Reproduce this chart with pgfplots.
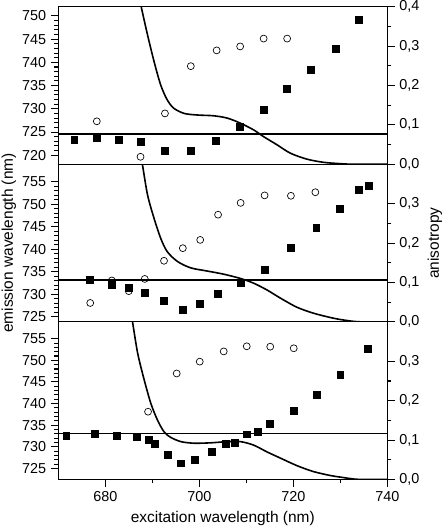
\documentclass[border=0pt]{standalone}
\usepackage{fontspec}
\setmainfont{Liberation Sans}
\usepackage{pgfplots}
\pgfplotsset{compat=1.18}

\newcommand{\lblfont}{\fontsize{11.6}{13}\selectfont}
\newcommand{\tckfont}{\fontsize{10.8}{12}\selectfont}

\pgfplotsset{
  base/.style={
    scale only axis, width=246.75pt, height=118.2pt,
    xmin=670, xmax=740,
    axis line style={line width=0.9pt},
    every tick/.append style={line width=0.8pt, black},
    tick align=outside,
    major tick length=5.5pt, minor tick length=3pt,
    every tick label/.append style={font=\tckfont},
    /pgf/number format/assume math mode=true,
    anchor=south west,
  },
  leftax/.style={base, ytick pos=left, minor y tick num=4, xtick=\empty},
  rightax/.style={base, axis y line*=right, axis x line=none,
    ymin=0, ymax=0.4, minor y tick num=1,
    yticklabel style={/pgf/number format/.cd, fixed, fixed zerofill, precision=1, use comma}},
  sq/.style={only marks, mark=square*, mark size=2.6pt, mark options={fill=black, draw=black}},
  ci/.style={only marks, mark=o, mark size=2.6pt, mark options={line width=0.5pt, draw=black}},
  curve/.style={black, line width=1.2pt, smooth, no marks},
  hline/.style={black, line width=0.85pt, no marks},
}

\begin{document}
\begin{tikzpicture}
\useasboundingbox (-43.7pt,-36.4pt) rectangle (287.8pt,359.6pt);

% ---------- Panel 1 (top) ----------
\begin{axis}[leftax, at={(0,236.4pt)}, ymin=718.06, ymax=752.0,
  ytick={720,725,730,735,740,745,750}]
\addplot[sq] coordinates {
(673.4,723.3) (678.2,723.8) (682.8,723.4) (687.5,722.9) (692.7,721.0)
(698.2,720.9) (703.6,723.2) (708.7,726.2) (713.7,729.8) (718.7,734.4)
(723.8,738.5) (729.1,743.0) (733.9,749.1)};
\addplot[hline] coordinates {(670,724.57) (740,724.57)};
\end{axis}
\begin{axis}[rightax, at={(0,236.4pt)}, ytick={0,0.1,0.2,0.3,0.4}]
\addplot[ci] coordinates {
(678.2,0.109) (687.5,0.019) (692.7,0.129) (698.2,0.249) (703.7,0.289)
(708.7,0.299) (713.7,0.319) (718.7,0.319)};
\addplot[curve] coordinates {
(686.8,0.45) (687.7,0.397) (689.0,0.328) (690.4,0.260) (691.8,0.201)
(693.2,0.163) (694.6,0.142) (696.8,0.129) (699.6,0.125) (703.1,0.123)
(706.0,0.117) (708.8,0.104) (711.6,0.087) (713.7,0.070) (716.6,0.049)
(719.4,0.028) (722.9,0.013) (726.4,0.005) (730.0,0.0015) (733,0) (740,0)};
\end{axis}

% ---------- Panel 2 (middle) ----------
\begin{axis}[leftax, at={(0,118.2pt)}, ymin=723.9, ymax=758.9,
  ytick={725,730,735,740,745,750,755},
  ylabel={emission wavelength (nm)},
  every axis y label/.style={at={(axis description cs:-0.150,0.5)}, anchor=center, rotate=90, font=\lblfont}]
\addplot[sq] coordinates {
(676.8,733.3) (681.4,732.1) (685.0,731.4) (688.4,730.4) (692.5,728.6)
(696.5,726.6) (700.1,728.0) (704.0,730.1) (708.8,732.6) (713.9,735.5)
(719.5,740.4) (724.9,744.7) (729.8,749.1) (734.0,753.3) (736.1,754.2)};
\addplot[hline] coordinates {(670,733.2) (740,733.2)};
\end{axis}
\begin{axis}[rightax, at={(0,118.2pt)}, ytick={0,0.1,0.2,0.3},
  ylabel={anisotropy},
  every axis y label/.style={at={(axis description cs:1.145,0.5)}, anchor=center, rotate=90, font=\lblfont}]
\addplot[ci] coordinates {
(676.8,0.048) (681.4,0.105) (685.0,0.078) (688.4,0.109) (692.5,0.155)
(696.5,0.187) (700.2,0.208) (704.0,0.272) (708.8,0.302) (713.9,0.321)
(719.5,0.320) (724.7,0.329)};
\addplot[curve] coordinates {
(687.2,0.45) (687.9,0.40) (689.0,0.322) (690.4,0.262) (691.8,0.212)
(693.2,0.178) (695.4,0.153) (698.2,0.137) (701.7,0.129) (705.2,0.121)
(708.8,0.110) (711.6,0.098) (714.4,0.081) (717.3,0.060) (720.8,0.037)
(724.3,0.022) (727.9,0.011) (730.0,0.006) (733.0,0.001) (735,0) (740,0)};
\end{axis}

% ---------- Panel 3 (bottom) ----------
\begin{axis}[leftax, at={(0,0pt)}, ymin=722.45, ymax=758.9,
  ytick={725,730,735,740,745,750,755},
  xtick={680,700,720,740}, minor x tick num=1, xtick pos=left,
  xlabel={excitation wavelength (nm)},
  every axis x label/.style={at={(axis description cs:0.5,-0.246)}, anchor=center, font=\lblfont}]
\addplot[sq] coordinates {
(671.7,732.5) (677.7,733.0) (682.5,732.6) (686.7,732.4) (689.3,731.6)
(690.5,730.6) (693.2,728.1) (696.0,726.2) (699.0,726.9) (702.6,728.9)
(705.6,730.6) (707.6,731.0) (710.2,732.9) (712.4,733.5) (715.0,735.3)
(720.1,738.3) (725.0,742.1) (730.0,746.7) (735.9,752.6)};
\addplot[hline] coordinates {(670,733.1) (740,733.1)};
\end{axis}
\begin{axis}[rightax, at={(0,0pt)}, ytick={0,0.1,0.2,0.3}]
\addplot[ci] coordinates {
(689.1,0.172) (695.2,0.269) (700.1,0.299) (705.2,0.325) (710.1,0.338)
(715.1,0.337) (720.1,0.333)};
\addplot[curve] coordinates {
(685.1,0.45) (685.8,0.40) (686.9,0.320) (688.3,0.252) (689.7,0.193)
(691.1,0.151) (692.5,0.121) (693.9,0.107) (696.1,0.096) (698.9,0.092)
(702.4,0.093) (706.0,0.096) (708.8,0.096) (711.6,0.087) (714.4,0.070)
(717.3,0.054) (720.8,0.035) (724.3,0.020) (727.9,0.010) (730.0,0.006)
(733,0.001) (735,0) (740,0)};
\end{axis}
\end{tikzpicture}
\end{document}
